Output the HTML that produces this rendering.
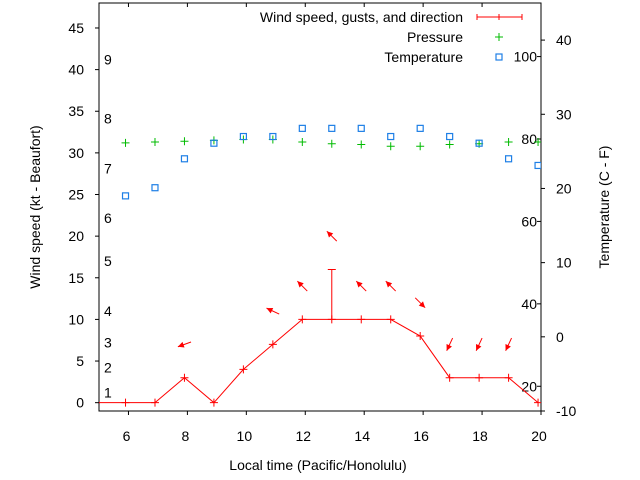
<!DOCTYPE html>
<html><head><meta charset="utf-8"><style>
body{margin:0;background:#fff;}
svg{display:block;font-family:"Liberation Sans",sans-serif;}
text{font-size:14px;fill:#000;}
</style></head><body>
<svg id="chart" width="640" height="480" viewBox="0 0 640 480">
<defs><clipPath id="clip"><rect x="99" y="3" width="442" height="408"/></clipPath></defs>
<g id="axes"></g>
<g id="plot" clip-path="url(#clip)"></g>
<g id="legend"></g>
</svg>
<script>
const hours=[4.9,5.9,6.9,7.9,8.9,9.9,10.9,11.9,12.9,13.9,14.9,15.9,16.9,17.9,18.9,19.9];
const wind=[0,0,0,3,0,4,7,10,10,10,10,8,3,3,3,0];
const gust=[null,null,null,null,null,null,null,null,16,null,null,null,null,null,null,null];
const arrowDir=[null,null,null,200,null,null,155,135,135,135,135,315,245,245,245,null];
const pressure=[null,31.2,31.3,31.4,31.5,31.6,31.6,31.3,31.1,31.0,30.8,30.8,31.0,31.1,31.3,31.3];
const temp=[null,19.0,20.1,24.0,26.1,27.0,27.0,28.1,28.1,28.1,27.0,28.1,27.0,26.1,24.0,23.1];
const xTicks=[6,8,10,12,14,16,18,20];
const yTicks=[0,5,10,15,20,25,30,35,40,45];
const tTicks=[-10,0,10,20,30,40];
const fTicks=[20,40,60,80,100];
const beaufort=[[1,1.2],[2,4.2],[3,7.2],[4,11],[5,17],[6,22.2],[7,28.1],[8,34.1],[9,41.2]];
const L=99,R=541,T=3,B=411;
const X=v=>L+(v-5)/(20-5)*(R-L);
const Y=v=>B-(v+1)/(48+1)*(B-T);
const YT=v=>B-(v+10)/(45+10)*(B-T);
const ns='http://www.w3.org/2000/svg';
function mk(p,tag,at,txt){const e=document.createElementNS(ns,tag);for(const k in at)e.setAttribute(k,at[k]);if(txt!=null)e.textContent=txt;p.appendChild(e);return e;}
const ax=document.getElementById('axes'),pl=document.getElementById('plot'),lg=document.getElementById('legend');
let e=mk(ax,'rect',{x:L,y:T,width:R-L,height:B-T,fill:'none',stroke:'#000','stroke-width':1});


xTicks.forEach(v=>{const x=X(v);
 mk(ax,'line',{x1:x,y1:B,x2:x,y2:B+4,stroke:'#000'});
 mk(ax,'line',{x1:x,y1:T,x2:x,y2:T+4,stroke:'#000'});
 e=mk(ax,'text',{x:x-2,y:441,'text-anchor':'middle'},v);
 
 });
yTicks.forEach(v=>{const y=Y(v);
 mk(ax,'line',{x1:L-4,y1:y,x2:L,y2:y,stroke:'#000'});
 e=mk(ax,'text',{x:84,y:y+5,'text-anchor':'end'},v);
 
 });
tTicks.forEach(v=>{const y=YT(v);
 mk(ax,'line',{x1:R,y1:y,x2:R+4,y2:y,stroke:'#000'});
 e=mk(ax,'text',{x:556,y:y+5},v);
 
 });
fTicks.forEach(f=>{const y=YT((f-32)*5/9);
 mk(ax,'line',{x1:R-4,y1:y,x2:R,y2:y,stroke:'#000'});
 e=mk(ax,'text',{x:537,y:y+5,'text-anchor':'end'},f);
 
 });
beaufort.forEach(([b,k])=>{
 e=mk(ax,'text',{x:104,y:Y(k)+5},b);
 
 });
e=mk(ax,'text',{x:318,y:470,'text-anchor':'middle'},'Local time (Pacific/Honolulu)');


e=mk(ax,'text',{x:0,y:0,'text-anchor':'middle',transform:'translate(40,207) rotate(-90)'},'Wind speed (kt - Beaufort)');


e=mk(ax,'text',{x:0,y:0,'text-anchor':'middle',transform:'translate(609,207) rotate(-90)'},'Temperature (C - F)');


// wind line
const pts=hours.map((h,i)=>X(h)+','+Y(wind[i])).join(' ');
e=mk(pl,'polyline',{points:pts,fill:'none',stroke:'#f00','stroke-width':1});


hours.forEach((h,i)=>{const x=X(h),y=Y(wind[i]);
 e=mk(pl,'path',{d:`M${x-4},${y}h8M${x},${y-4}v8`,stroke:'#f00'});
 
 
 if(gust[i]!=null){const g=Y(gust[i]);
  e=mk(pl,'path',{d:`M${x},${y}V${g}M${x-4},${g}h8`,stroke:'#f00'});
  
  }
 if(arrowDir[i]!=null){const base=gust[i]!=null?gust[i]:wind[i];
  const cy=Y(base+4),a=arrowDir[i]*Math.PI/180,dx=Math.cos(a),dy=-Math.sin(a);
  const x1=x-dx*7,y1=cy-dy*7,x2=x+dx*7,y2=cy+dy*7;
  const px=-dy,py=dx;
  e=mk(pl,'g',{});
  
  
  mk(e,'line',{x1,y1,x2,y2,stroke:'#f00'});
  mk(e,'polygon',{points:`${x2},${y2} ${x2-dx*6+px*3},${y2-dy*6+py*3} ${x2-dx*6-px*3},${y2-dy*6-py*3}`,fill:'#f00'});}
 if(pressure[i]!=null){const py2=Y(pressure[i]);
  e=mk(pl,'path',{d:`M${x-4},${py2}h8M${x},${py2-4}v8`,stroke:'#0b0'});
  
  }
 if(temp[i]!=null){const ty=YT(temp[i]);
  e=mk(pl,'rect',{x:x-3,y:ty-3,width:6,height:6,fill:'none',stroke:'#1e7fe6','stroke-width':1.2});
  
  }
});
// legend
const lt=[['Wind speed, gusts, and direction',17],['Pressure',37],['Temperature',57]];
lt.forEach(([t,y])=>{e=mk(lg,'text',{x:463,y:y+5,'text-anchor':'end'},t);
 
 });
mk(lg,'path',{d:'M477,17h45M477,14v6M522,14v6M499,14v6',stroke:'#f00'});
mk(lg,'path',{d:'M495,37h8M499,33v8',stroke:'#0b0'});
mk(lg,'rect',{x:496,y:54,width:6,height:6,fill:'none',stroke:'#1e7fe6','stroke-width':1.2});
</script>
</body></html>
